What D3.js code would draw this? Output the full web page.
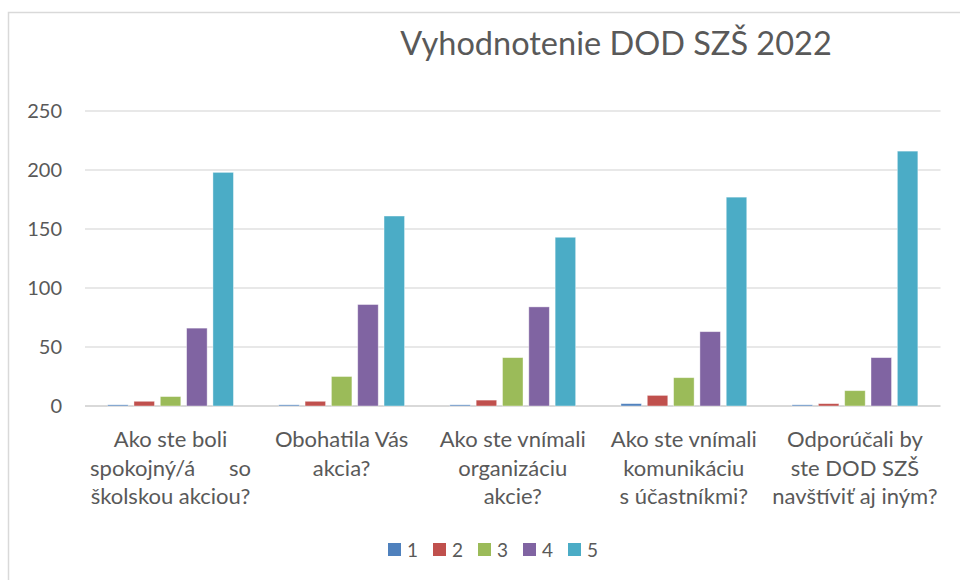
<!DOCTYPE html>
<html>
<head>
<meta charset="utf-8">
<script src="https://cdn.jsdelivr.net/npm/d3@7"></script>
<style>
  body { margin: 0; background: #fff; }
  text { font-family: Lato, "Open Sans", sans-serif; fill: #595959; }
</style>
</head>
<body>
<div id="chart"></div>
<script>

var title = "Vyhodnotenie DOD SZŠ 2022";

// question labels, one array of lines per category
var categories = [
    ["Ako ste boli", "spokojný/á      so", "školskou akciou?"],
    ["Obohatila Vás", "akcia?"],
    ["Ako ste vnímali", "organizáciu", "akcie?"],
    ["Ako ste vnímali", "komunikáciu", "s účastníkmi?"],
    ["Odporúčali by", "ste DOD SZŠ", "navštíviť aj iným?"]
];

var seriesNames = ["1", "2", "3", "4", "5"];

// counts per rating, one value per question
var series1 = [1, 1, 1, 2, 1];
var series2 = [4, 4, 5, 9, 2];
var series3 = [8, 25, 41, 24, 13];
var series4 = [66, 86, 84, 63, 41];
var series5 = [198, 161, 143, 177, 216];

var yTicks = [0, 50, 100, 150, 200, 250];

var colors = ["#4f81bd", "#c0504d", "#9bbb59", "#8064a2", "#4bacc6"];

var allSeries = [series1, series2, series3, series4, series5];

var width = 960, height = 580;
var margin = { top: 111, left: 85 };
var plotW = 855.5, plotH = 406 - 111;

var svg = d3.select("#chart").append("svg")
    .attr("width", width)
    .attr("height", height);

// chart frame (only top and left edges visible in the window)
svg.append("rect")
    .attr("x", 8.5).attr("y", 12.5)
    .attr("width", 1100).attr("height", 700)
    .attr("fill", "none")
    .attr("stroke", "#d9d9d9")
    .attr("stroke-width", 1.5);

svg.append("text")
    .attr("x", 616)
    .attr("y", 55)
    .attr("text-anchor", "middle")
    .style("font-size", "32.5px")
    .text(title);

var g = svg.append("g")
    .attr("transform", "translate(" + margin.left + "," + margin.top + ")");

var x0 = d3.scaleBand()
    .domain(d3.range(categories.length))
    .range([0, plotW])
    .padding(0);

var x1 = d3.scaleBand()
    .domain(d3.range(seriesNames.length))
    .range([0, x0.bandwidth()])
    .paddingInner(0.22)
    .paddingOuter(0.86);

var y = d3.scaleLinear()
    .domain([0, 250])
    .range([plotH, 0]);

// gridlines
g.selectAll(".grid")
    .data(yTicks)
    .enter().append("line")
    .attr("x1", 0)
    .attr("x2", plotW)
    .attr("y1", function (d) { return y(d); })
    .attr("y2", function (d) { return y(d); })
    .attr("stroke", function (d) { return d === 0 ? "#d9d9d9" : "#e0e0e0"; })
    .attr("stroke-width", function (d) { return d === 0 ? 2 : 1.3; });

// y tick labels
g.selectAll(".ylab")
    .data(yTicks)
    .enter().append("text")
    .attr("x", -23)
    .attr("y", function (d) { return y(d); })
    .attr("dy", "0.35em")
    .attr("text-anchor", "end")
    .style("font-size", "20px")
    .text(function (d) { return d; });

// bars
var groups = g.selectAll(".cat")
    .data(categories)
    .enter().append("g")
    .attr("transform", function (d, i) { return "translate(" + x0(i) + ",0)"; });

groups.selectAll("rect")
    .data(function (d, i) {
        return allSeries.map(function (s, k) { return { k: k, value: s[i] }; });
    })
    .enter().append("rect")
    .attr("x", function (d) { return x1(d.k); })
    .attr("y", function (d) { return y(d.value); })
    .attr("width", x1.bandwidth())
    .attr("height", function (d) { return y(0) - y(d.value); })
    .attr("fill", function (d) { return colors[d.k]; })
    .attr("stroke", "#ffffff")
    .attr("stroke-opacity", 0.5)
    .attr("stroke-width", 0.8);

// category labels
groups.append("text")
    .attr("x", x0.bandwidth() / 2)
    .attr("y", plotH + 41)
    .attr("text-anchor", "middle")
    .style("font-size", "22px")
    .style("white-space", "pre")
    .selectAll("tspan")
    .data(function (d) { return d; })
    .enter().append("tspan")
    .attr("x", x0.bandwidth() / 2)
    .attr("dy", function (d, i) { return i === 0 ? 0 : 28.5; })
    .text(function (d) { return d; });

// legend
var legend = svg.append("g")
    .attr("transform", "translate(388,543)");

var item = legend.selectAll(".leg")
    .data(seriesNames)
    .enter().append("g")
    .attr("transform", function (d, i) { return "translate(" + (i * 45) + ",0)"; });

item.append("rect")
    .attr("width", 13)
    .attr("height", 13)
    .attr("fill", function (d, i) { return colors[i]; });

item.append("text")
    .attr("x", 19)
    .attr("y", 7)
    .attr("dy", "0.35em")
    .style("font-size", "19px")
    .text(function (d) { return d; });

</script>
</body>
</html>
